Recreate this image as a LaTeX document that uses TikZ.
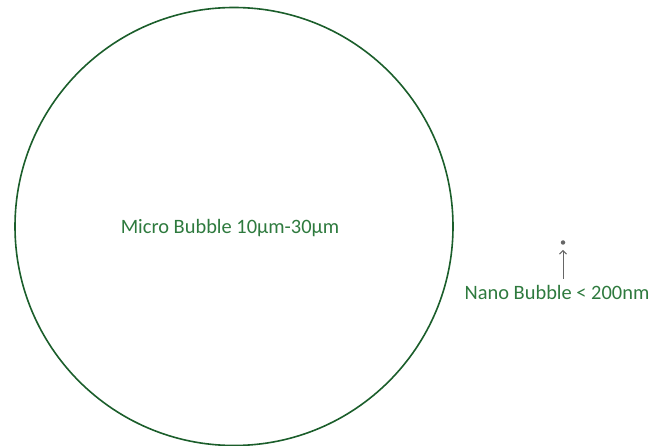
\documentclass[tikz,border=0pt]{standalone}
\usepackage{fontspec}
\setmainfont{Carlito}
\usetikzlibrary{arrows.meta}
\definecolor{circgreen}{HTML}{1B5E2B}
\definecolor{txtgreen}{HTML}{2E7A3E}
\definecolor{arrgray}{HTML}{666666}
\begin{document}
\begin{tikzpicture}[x=1bp,y=-1bp,
  lbl/.style={text=txtgreen,font=\fontsize{20.5}{24}\selectfont,inner sep=0pt}]
\useasboundingbox (0,0) rectangle (662,446);
\node[draw=circgreen,line width=1.6bp,circle,minimum size=438bp,inner sep=0pt] (micro) at (234,226.5) {};
\node[lbl] (microlbl) at (230,228) {Micro Bubble 10μm-30μm};
\node[circle,fill=arrgray,minimum size=4.5bp,inner sep=0pt] (nano) at (563,242.5) {};
\node[lbl] (nanolbl) at (557,292) {Nano Bubble < 200nm};
\coordinate (tail) at (563,279);
\draw[arrgray,line width=1bp,-{Straight Barb[length=3.5bp,width=7bp]}] (tail) -- ([yshift=-5bp]nano.south);
\end{tikzpicture}
\end{document}
